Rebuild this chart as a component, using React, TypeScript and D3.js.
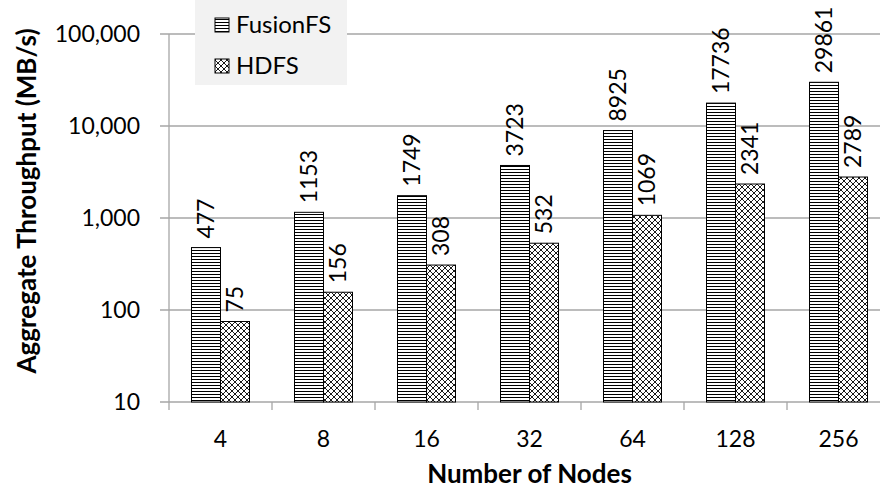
import React from 'react';
import * as d3 from 'd3';

const nodes = ['4', '8', '16', '32', '64', '128', '256'];
const fusionFS = [477, 1153, 1749, 3723, 8925, 17736, 29861];
const hdfs = [75, 156, 308, 532, 1069, 2341, 2789];
const yTicks = [10, 100, 1000, 10000, 100000];

const series = [
  { name: 'FusionFS', values: fusionFS, pattern: 'url(#hlines)' },
  { name: 'HDFS', values: hdfs, pattern: 'url(#xhatch)' },
];

const width = 880;
const height = 491;
const margin = { top: 34, right: -10, bottom: 89, left: 169 };
const font = 'Lato, "Open Sans", sans-serif';

const App = () => {
  const innerW = width - margin.left - margin.right;
  const innerH = height - margin.top - margin.bottom;

  const x = d3.scaleBand().domain(nodes).range([0, innerW]);
  const y = d3.scaleLog().domain([10, 100000]).range([innerH, 0]);
  const barW = 29;
  const fmt = d3.format(',');

  return (
    <svg width={width} height={height} style={{ position: 'absolute', left: 0, top: 0, background: '#fff' }}>
      <defs>
        <pattern id="hlines" width="4" height="3" patternUnits="userSpaceOnUse">
          <rect width="4" height="3" fill="#fff" />
          <line x1="0" y1="0.5" x2="4" y2="0.5" stroke="#000" strokeWidth="1" />
        </pattern>
        <pattern id="xhatch" width="6" height="6" patternUnits="userSpaceOnUse">
          <rect width="6" height="6" fill="#fff" />
          <path d="M0,0 L6,6 M6,0 L0,6" stroke="#000" strokeWidth="0.9" />
        </pattern>
      </defs>
      <g transform={`translate(${margin.left},${margin.top})`}>
        {yTicks.map(t => (
          <g key={t}>
            <line x1={-9} x2={innerW} y1={y(t)} y2={y(t)} stroke="#a6a6a6" strokeWidth={1.3} />
            <text x={-29} y={y(t)} dy="0.35em" textAnchor="end" fontFamily={font} fontSize={23} fill="#000">
              {fmt(t)}
            </text>
          </g>
        ))}
        <line x1={0} x2={0} y1={0} y2={innerH} stroke="#a6a6a6" strokeWidth={1.3} />
        {nodes.map((n, i) => (
          <line key={n} x1={x.step() * i} x2={x.step() * i} y1={innerH} y2={innerH + 8} stroke="#a6a6a6" strokeWidth={1.3} />
        ))}
        {nodes.map(n => (
          <text key={n} x={(x(n) as number) + x.bandwidth() / 2} y={innerH + 45} textAnchor="middle" fontFamily={font} fontSize={23} fill="#000">
            {n}
          </text>
        ))}
        {series.map((s, si) =>
          s.values.map((v, i) => {
            const cx = (x(nodes[i]) as number) + x.bandwidth() / 2;
            const bx = si === 0 ? cx - barW : cx;
            return (
              <g key={s.name + i}>
                <rect x={bx} y={y(v)} width={barW} height={innerH - y(v)} fill={s.pattern} stroke="#000" strokeWidth={1} />
                <text
                  transform={`translate(${bx + barW / 2},${y(v) - 9}) rotate(-90)`}
                  dy="0.35em"
                  fontFamily={font}
                  fontSize={23}
                  fill="#000"
                >
                  {v}
                </text>
              </g>
            );
          })
        )}
      </g>
      <g transform="translate(195,0)">
        <rect width={152} height={85} fill="#f2f2f2" />
        {series.map((s, i) => (
          <g key={s.name} transform={`translate(20,${25 + i * 41})`}>
            <rect x={0} y={-7} width={14} height={14} fill={s.pattern} stroke="#000" strokeWidth={1} />
            <text x={21} y={0} dy="0.35em" fontFamily={font} fontSize={24} fill="#000">{s.name}</text>
          </g>
        ))}
      </g>
      <text x={margin.left + innerW / 2} y={483} textAnchor="middle" fontFamily={font} fontWeight="bold" fontSize={26} fill="#000">
        Number of Nodes
      </text>
      <text transform="translate(36,201) rotate(-90)" textAnchor="middle" fontFamily={font} fontWeight="bold" fontSize={26} fill="#000">
        Aggregate Throughput (MB/s)
      </text>
    </svg>
  );
};

export default App;
